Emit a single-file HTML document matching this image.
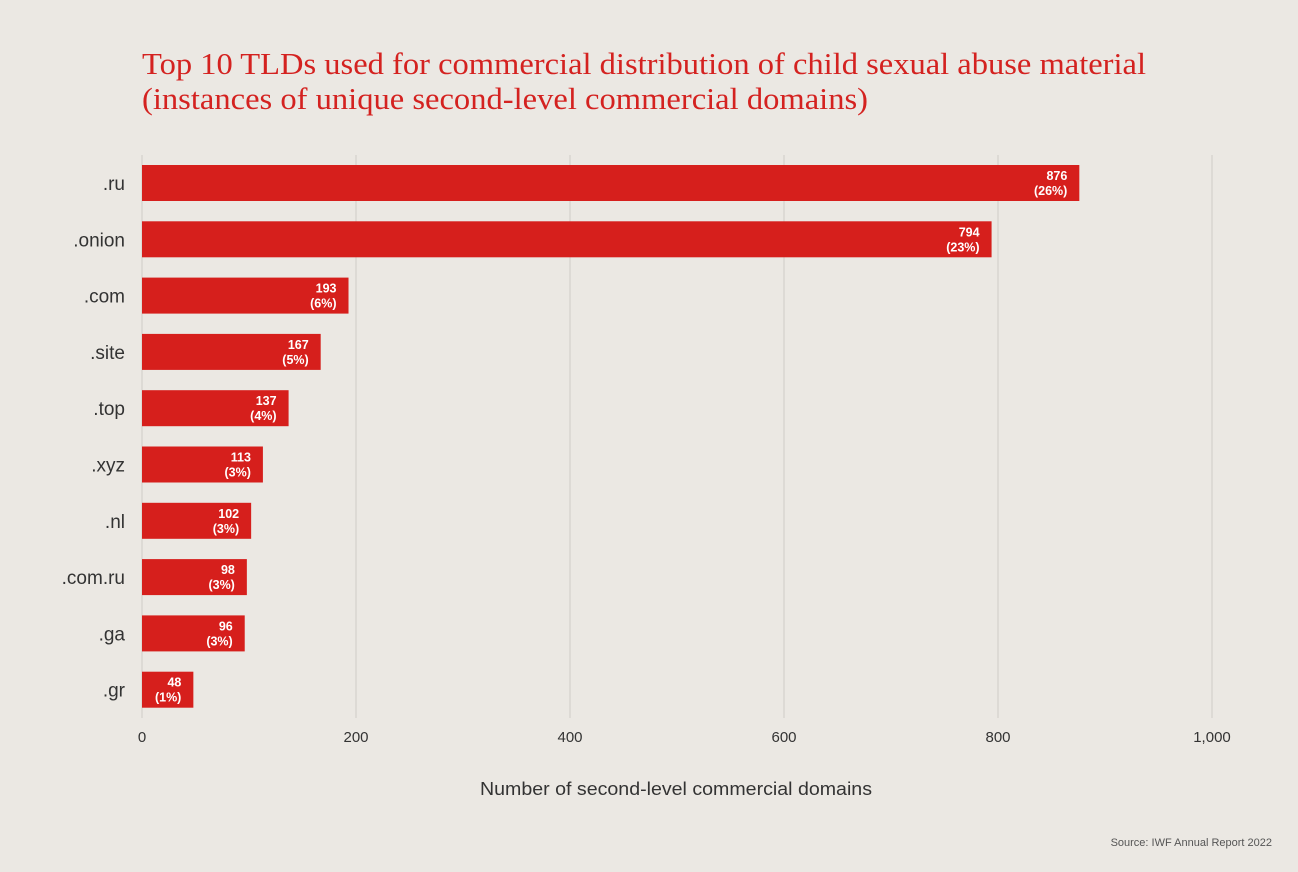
<!DOCTYPE html>
<html><head><meta charset="utf-8"><style>
html,body{margin:0;padding:0;background:#ebe8e3;}
svg{display:block;}
</style></head><body>
<svg id="chart" width="1298" height="872" xmlns="http://www.w3.org/2000/svg">
<rect width="1298" height="872" fill="#ebe8e3"/>
<text x="142" y="74" font-family="Liberation Serif, serif" font-size="31" fill="#d42220" textLength="1004" lengthAdjust="spacingAndGlyphs">Top 10 TLDs used for commercial distribution of child sexual abuse material</text>
<text x="142" y="109" font-family="Liberation Serif, serif" font-size="31" fill="#d42220" textLength="726" lengthAdjust="spacingAndGlyphs">(instances of unique second-level commercial domains)</text>
<g id="grid"></g>
<g id="bars"></g>
<g id="ylabels"></g>
<g id="xticks"></g>
<text x="676" y="795" text-anchor="middle" font-family="Liberation Sans, sans-serif" font-size="18" fill="#333" textLength="392" lengthAdjust="spacingAndGlyphs">Number of second-level commercial domains</text>
<text x="1272" y="846" text-anchor="end" font-family="Liberation Sans, sans-serif" font-size="11" fill="#555">Source: IWF Annual Report 2022</text>
</svg>
<script>
const categories=[".ru",".onion",".com",".site",".top",".xyz",".nl",".com.ru",".ga",".gr"];
const values=[876,794,193,167,137,113,102,98,96,48];
const percents=["26%","23%","6%","5%","4%","3%","3%","3%","3%","1%"];
const ticks=[0,200,400,600,800,1000];
const tickLabels=["0","200","400","600","800","1,000"];
const NS="http://www.w3.org/2000/svg";
const x0=142,x1=1212,xmax=1000;
const xs=v=>x0+(v/xmax)*(x1-x0);
const top0=165,step=56.3,bh=36;
const ys=i=>top0+i*step;
function mk(tag,attrs,parent,txt){const e=document.createElementNS(NS,tag);for(const k in attrs)e.setAttribute(k,attrs[k]);if(txt!=null)e.textContent=txt;parent.appendChild(e);return e;}
const grid=document.getElementById('grid'),bars=document.getElementById('bars'),yl=document.getElementById('ylabels'),xt=document.getElementById('xticks');
ticks.forEach((t,i)=>{
  const l=mk('line',{x1:xs(t),x2:xs(t),y1:155,y2:718,stroke:'#cfccc7','stroke-width':1},grid);
  
  
  const tx=mk('text',{x:xs(t),y:742,'text-anchor':'middle','font-family':'Liberation Sans, sans-serif','font-size':15,fill:'#333'},xt,tickLabels[i]);
  
  
});
categories.forEach((c,i)=>{
  const y=ys(i);
  const r=mk('rect',{x:x0,y:y,width:xs(values[i])-x0,height:bh,fill:'#d61f1c'},bars);
  
  
  const ex=xs(values[i])-12;
  const v=mk('text',{x:ex,y:y+15,'text-anchor':'end','font-family':'Liberation Sans, sans-serif','font-size':12.5,'font-weight':'bold',fill:'#fff'},bars,String(values[i]));
  
  
  const p=mk('text',{x:ex,y:y+30,'text-anchor':'end','font-family':'Liberation Sans, sans-serif','font-size':12.5,'font-weight':'bold',fill:'#fff'},bars,'('+percents[i]+')');
  
  
  const lab=mk('text',{x:125,y:y+bh/2+7,'text-anchor':'end','font-family':'Liberation Sans, sans-serif','font-size':19,fill:'#333'},yl,c);
  
  
});
</script>
</body></html>
